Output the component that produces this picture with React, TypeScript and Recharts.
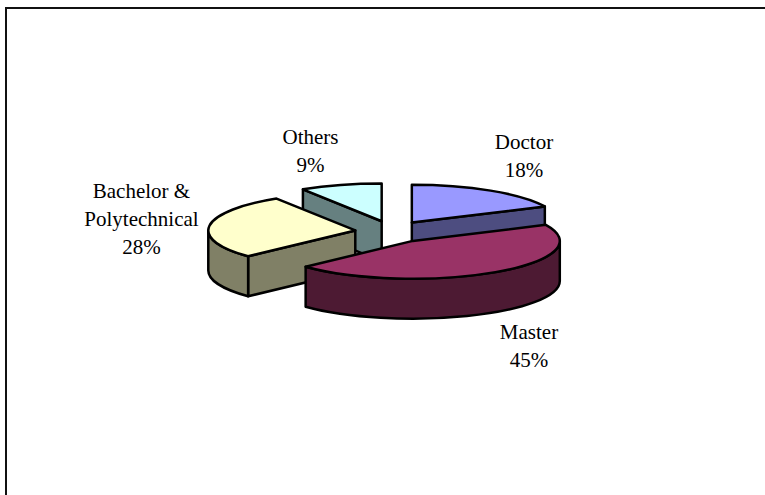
import React from "react";
import { PieChart, Pie, Cell } from "recharts";

const categories = ["Doctor", "Others", "Bachelor & Polytechnical", "Master"];
const shares = [18, 9, 28, 45];
const topColors = ["#9999FF", "#CCFFFF", "#FFFFCC", "#993366"];
const sideColors = ["#4D4D80", "#668080", "#808066", "#4D1A33"];
const labelLines = [["Doctor"], ["Others"], ["Bachelor &", "Polytechnical"], ["Master"]];
const labelAnchors = [
  { dx: 132, dy: -82.5 },
  { dx: -81.5, dy: -87.5 },
  { dx: -250.5, dy: -33.5 },
  { dx: 137, dy: 107.5 },
];

const chartData = categories.map((name, i) => ({ name, value: shares[i], index: i }));

const CX = 392;
const CY = 231.8;
const RADIUS = 147;
const FLATTEN = 37.5 / 146;
const EXPLODE_X = 37;
const EXPLODE_Y = 11;
const DEPTH = 40;
const LINE_HEIGHT = 28;
const RAD = Math.PI / 180;

function Slice3D(props: any) {
  const { cx, cy, outerRadius, startAngle, endAngle, payload } = props;
  const i = payload?.index ?? props.index;
  const s = Math.min(startAngle, endAngle);
  const e = Math.max(startAngle, endAngle);
  const mid = (s + e) / 2;
  const ax = cx + EXPLODE_X * Math.cos(mid * RAD);
  const ay = cy - EXPLODE_Y * Math.sin(mid * RAD);
  const rx = outerRadius;
  const ry = outerRadius * FLATTEN;
  const pt = (a: number, d = 0) => [ax + rx * Math.cos(a * RAD), ay - ry * Math.sin(a * RAD) + d];
  const wallOf = (a: number) => {
    const [x, y] = pt(a);
    return `M${ax},${ay} L${x},${y} L${x},${y + DEPTH} L${ax},${ay + DEPTH} Z`;
  };
  const walls: string[] = [];
  if (Math.cos(s * RAD) > 0.001) walls.push(wallOf(s));
  if (Math.cos(e * RAD) < -0.001) walls.push(wallOf(e));
  // Rim: the part of the slice lying on the front half of the ellipse
  for (const [lo, hi] of [[-180, 0], [180, 360], [540, 720]]) {
    const a1 = Math.max(s, lo);
    const a2 = Math.min(e, hi);
    if (a2 > a1) {
      const [x1, y1] = pt(a1);
      const [x2, y2] = pt(a2);
      const large = a2 - a1 > 180 ? 1 : 0;
      walls.push(
        `M${x1},${y1} A${rx},${ry} 0 ${large} 0 ${x2},${y2} L${x2},${y2 + DEPTH} A${rx},${ry} 0 ${large} 1 ${x1},${y1 + DEPTH} Z`
      );
    }
  }
  const [sx, sy] = pt(s);
  const [ex, ey] = pt(e);
  const top = `M${ax},${ay} L${sx},${sy} A${rx},${ry} 0 ${e - s > 180 ? 1 : 0} 0 ${ex},${ey} Z`;
  return (
    <g>
      {walls.map((d, k) => (
        <path key={k} d={d} fill={sideColors[i]} stroke="#000" strokeWidth={2.5} strokeLinejoin="round" />
      ))}
      <path d={top} fill={topColors[i]} stroke="#000" strokeWidth={2.5} strokeLinejoin="round" />
    </g>
  );
}

function SliceLabel(props: any) {
  const i = props.payload?.index ?? props.index;
  const lines = [...labelLines[i], `${Math.round(shares[i])}%`];
  const x = CX + labelAnchors[i].dx;
  const y = CY + labelAnchors[i].dy;
  return (
    <text textAnchor="middle" fontFamily="'Liberation Serif'" fontSize={21} fill="#000">
      {lines.map((t, k) => (
        <tspan key={k} x={x} y={y + k * LINE_HEIGHT}>
          {t}
        </tspan>
      ))}
    </text>
  );
}

export default function App() {
  return (
    <div style={{ position: "absolute", left: 0, top: 0, width: 765, height: 495, overflow: "hidden", background: "#fff" }}>
      <div style={{ position: "absolute", left: 5, top: 7, width: 800, height: 600, borderLeft: "2px solid #111", borderTop: "2px solid #111" }} />
      <div style={{ position: "absolute", left: 0, top: 0 }}>
        <PieChart width={765} height={495} margin={{ top: 0, right: 0, bottom: 0, left: 0 }}>
          <Pie
            data={chartData}
            dataKey="value"
            nameKey="name"
            cx={CX}
            cy={CY}
            innerRadius={0}
            outerRadius={RADIUS}
            startAngle={25.2}
            endAngle={385.2}
            stroke="none"
            isAnimationActive={false}
            shape={Slice3D}
            label={SliceLabel}
            labelLine={false}
          >
            {chartData.map((d) => (
              <Cell key={d.name} fill={topColors[d.index]} />
            ))}
          </Pie>
        </PieChart>
      </div>
    </div>
  );
}
